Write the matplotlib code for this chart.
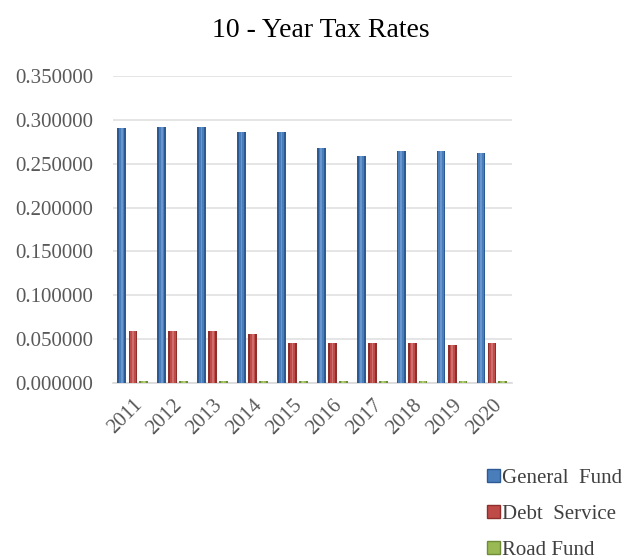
import numpy as np
import matplotlib.pyplot as plt
from matplotlib.patches import Patch

# ---------------------------------------------------------------------------
# Tax rate data by fund, 2011 - 2020
# ---------------------------------------------------------------------------
years = ['2011', '2012', '2013', '2014', '2015', '2016', '2017', '2018', '2019', '2020']
general_fund = [0.2906, 0.2924, 0.2924, 0.2864, 0.2864, 0.2674, 0.2590, 0.2648, 0.2648, 0.2625]
debt_service = [0.0595, 0.0590, 0.0590, 0.0557, 0.0452, 0.0452, 0.0456, 0.0456, 0.0436, 0.0456]
road_fund = [0.0025, 0.0025, 0.0025, 0.0025, 0.0025, 0.0025, 0.0025, 0.0025, 0.0025, 0.0025]

series = [
    ('General  Fund', general_fund, '#4A7EBB', '#2C5A94', '#7FA8DA'),
    ('Debt  Service', debt_service, '#BE4B48', '#8E2F2C', '#D98886'),
    ('Road Fund', road_fund, '#98B954', '#6E8C35', '#C3DA8F'),
]

plt.rcParams['font.family'] = ['Liberation Serif', 'DejaVu Serif']

fig = plt.figure(figsize=(6.36, 5.59), dpi=100)
ax = fig.add_axes([0.1777, 0.3148, 0.6274, 0.5492])

x = np.arange(len(years))
width = 0.22
offsets = [-0.28, 0.0, 0.27]

for (label, values, color, dark, light), off in zip(series, offsets):
    # darker outer body with a lighter core gives the rounded look
    ax.bar(x + off, values, width, color=dark, zorder=3)
    ax.bar(x + off, values, width * 0.6, color=color, zorder=4)
    ax.bar(x + off, values, width * 0.2, color=light, alpha=0.6, zorder=5)

ax.set_xlim(-0.5, len(years) - 0.5)
ax.set_ylim(0, 0.35)
ax.set_yticks(np.arange(0, 0.351, 0.05))
ax.set_yticklabels([f'{v:.6f}' for v in np.arange(0, 0.351, 0.05)])
ax.set_xticks(x)
ax.set_xticklabels(years, rotation=45, ha='right', va='top', rotation_mode='anchor')

ax.tick_params(axis='both', length=0, labelsize=15, colors='#595959')
ax.tick_params(axis='y', pad=14)
ax.tick_params(axis='x', pad=9)
ax.grid(axis='y', color='#E0E0E0', linewidth=1.2, zorder=0)
for side in ['top', 'right', 'left']:
    ax.spines[side].set_visible(False)
ax.spines['bottom'].set_color('#D9D9D9')
ax.spines['bottom'].set_linewidth(1.2)

fig.text(0.505, 0.945, '10 - Year Tax Rates', ha='center', va='center', fontsize=20, color='black')

handles = [Patch(facecolor=color, edgecolor=dark, linewidth=1.0, label=label)
           for label, values, color, dark, light in series]
fig.legend(handles=handles, loc='upper left', bbox_to_anchor=(0.766, 0.161),
           frameon=False, fontsize=15, handlelength=0.6, handleheight=0.6,
           handletextpad=0.1, labelspacing=0.81, labelcolor='#404040',
           borderaxespad=0, borderpad=0)

fig.savefig('out.png', dpi=100)
